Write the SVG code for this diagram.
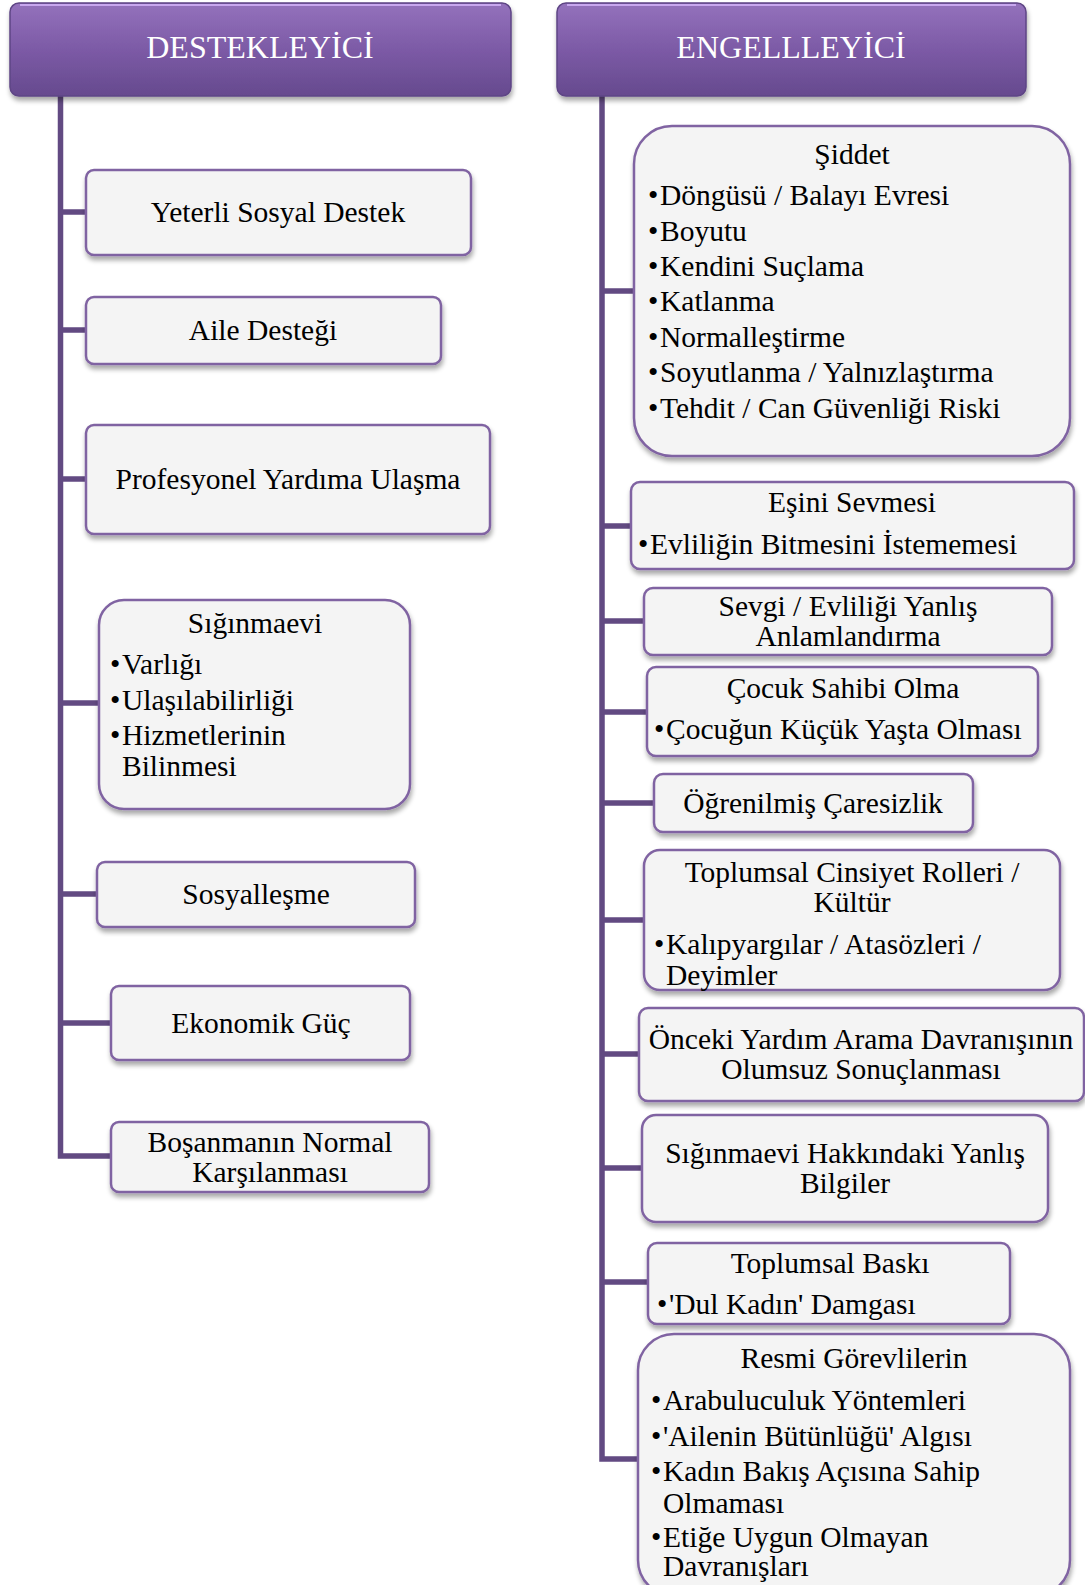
<svg xmlns="http://www.w3.org/2000/svg" width="1085" height="1585" viewBox="0 0 1085 1585">
<defs>
<linearGradient id="hg" x1="0" y1="0" x2="0" y2="1">
<stop offset="0" stop-color="#9472bc"/>
<stop offset="0.5" stop-color="#7c5aa6"/>
<stop offset="1" stop-color="#664a8e"/>
</linearGradient>
<filter id="sh" x="-5%" y="-5%" width="110%" height="120%">
<feGaussianBlur in="SourceAlpha" stdDeviation="2.5"/>
<feOffset dx="1" dy="4" result="b"/>
<feComponentTransfer><feFuncA type="linear" slope="0.35"/></feComponentTransfer>
<feMerge><feMergeNode/><feMergeNode in="SourceGraphic"/></feMerge>
</filter>
<style>
.hd{fill:url(#hg);stroke:#5e4585;stroke-width:1.5;filter:url(#sh)}
.hl{fill:none;stroke:#c8a8ee;stroke-width:2}
.ht{font-family:"Liberation Serif",serif;font-size:32px;fill:#ffffff;text-anchor:middle}
.nd{fill:#f4f4f4;stroke:#8064a2;stroke-width:2.5;filter:url(#sh)}
.t{font-family:"Liberation Serif",serif;font-size:29.5px;fill:#000000}
.c{text-anchor:middle}
.cn{fill:none;stroke:#624a82;stroke-width:5.5}
</style>
</defs>
<rect width="1085" height="1585" fill="#ffffff"/>

<g id="connectors">
<path class="cn" d="M60.5,96 V1156 H111"/>
<path class="cn" d="M60.5,212 H86 M60.5,330 H86 M60.5,479 H86 M60.5,703 H99 M60.5,894 H97 M60.5,1023 H111"/>
<path class="cn" d="M602,96 V1459 H638"/>
<path class="cn" d="M602,291 H634 M602,526 H631 M602,621 H644 M602,712 H647 M602,803 H654 M602,920 H644 M602,1054 H639 M602,1168 H642 M602,1282 H648"/>
</g>

<g id="h-destek">
<rect class="hd" x="10" y="3" width="501" height="93" rx="9"/>
<path class="hl" d="M20,5 H501"/>
<text class="ht" x="260" y="58">DESTEKLEYİCİ</text>
</g>
<g id="h-engel">
<rect class="hd" x="557" y="3" width="469" height="93" rx="9"/>
<path class="hl" d="M567,5 H1016"/>
<text class="ht" x="791" y="58">ENGELLLEYİCİ</text>
</g>

<g id="n-yeterli">
<rect class="nd" x="86" y="170" width="385" height="85" rx="8"/>
<text class="t c" x="278" y="222">Yeterli Sosyal Destek</text>
</g>
<g id="n-aile">
<rect class="nd" x="86" y="297" width="355" height="67" rx="8"/>
<text class="t c" x="263" y="340">Aile Desteği</text>
</g>
<g id="n-profesyonel">
<rect class="nd" x="86" y="425" width="404" height="109" rx="8"/>
<text class="t c" x="288" y="489">Profesyonel Yardıma Ulaşma</text>
</g>
<g id="n-siginmaevi">
<rect class="nd" x="99" y="600" width="311" height="209" rx="25"/>
<text class="t c" x="255" y="633">Sığınmaevi</text>
<text class="t" x="110" y="674">•</text><text class="t" x="122" y="674">Varlığı</text>
<text class="t" x="110" y="710">•</text><text class="t" x="122" y="710">Ulaşılabilirliği</text>
<text class="t" x="110" y="745">•</text><text class="t" x="122" y="745">Hizmetlerinin</text>
<text class="t" x="122" y="776">Bilinmesi</text>
</g>
<g id="n-sosyal">
<rect class="nd" x="97" y="862" width="318" height="65" rx="8"/>
<text class="t c" x="256" y="904">Sosyalleşme</text>
</g>
<g id="n-ekonomik">
<rect class="nd" x="111" y="986" width="299" height="74" rx="8"/>
<text class="t c" x="261" y="1033">Ekonomik Güç</text>
</g>
<g id="n-bosanma">
<rect class="nd" x="111" y="1122" width="318" height="70" rx="8"/>
<text class="t c" x="270" y="1152">Boşanmanın Normal</text>
<text class="t c" x="270" y="1182">Karşılanması</text>
</g>

<g id="n-siddet">
<rect class="nd" x="634" y="126" width="436" height="330" rx="38"/>
<text class="t c" x="852" y="164">Şiddet</text>
<text class="t" x="648" y="205">•</text><text class="t" x="660" y="205">Döngüsü / Balayı Evresi</text>
<text class="t" x="648" y="241">•</text><text class="t" x="660" y="241">Boyutu</text>
<text class="t" x="648" y="276">•</text><text class="t" x="660" y="276">Kendini Suçlama</text>
<text class="t" x="648" y="311">•</text><text class="t" x="660" y="311">Katlanma</text>
<text class="t" x="648" y="347">•</text><text class="t" x="660" y="347">Normalleştirme</text>
<text class="t" x="648" y="382">•</text><text class="t" x="660" y="382">Soyutlanma / Yalnızlaştırma</text>
<text class="t" x="648" y="418">•</text><text class="t" x="660" y="418">Tehdit / Can Güvenliği Riski</text>
</g>
<g id="n-esini">
<rect class="nd" x="631" y="482" width="443" height="87" rx="9"/>
<text class="t c" x="852" y="512">Eşini Sevmesi</text>
<text class="t" x="638" y="554">•</text><text class="t" x="650" y="554">Evliliğin Bitmesini İstememesi</text>
</g>
<g id="n-sevgi">
<rect class="nd" x="644" y="588" width="408" height="67" rx="9"/>
<text class="t c" x="848" y="616">Sevgi / Evliliği Yanlış</text>
<text class="t c" x="848" y="646">Anlamlandırma</text>
</g>
<g id="n-cocuk">
<rect class="nd" x="647" y="667" width="391" height="89" rx="9"/>
<text class="t c" x="843" y="698">Çocuk Sahibi Olma</text>
<text class="t" x="654" y="739">•</text><text class="t" x="666" y="739">Çocuğun Küçük Yaşta Olması</text>
</g>
<g id="n-ogrenilmis">
<rect class="nd" x="654" y="774" width="319" height="58" rx="9"/>
<text class="t c" x="813" y="813">Öğrenilmiş Çaresizlik</text>
</g>
<g id="n-toplumsal-cinsiyet">
<rect class="nd" x="644" y="850" width="416" height="140" rx="16"/>
<text class="t c" x="852" y="882">Toplumsal Cinsiyet Rolleri /</text>
<text class="t c" x="852" y="912">Kültür</text>
<text class="t" x="654" y="954">•</text><text class="t" x="666" y="954">Kalıpyargılar / Atasözleri /</text>
<text class="t" x="666" y="985">Deyimler</text>
</g>
<g id="n-onceki">
<rect class="nd" x="639" y="1008" width="445" height="93" rx="9"/>
<text class="t c" x="861" y="1049">Önceki Yardım Arama Davranışının</text>
<text class="t c" x="861" y="1079">Olumsuz Sonuçlanması</text>
</g>
<g id="n-siginmaevi-yanlis">
<rect class="nd" x="642" y="1115" width="406" height="107" rx="14"/>
<text class="t c" x="845" y="1163">Sığınmaevi Hakkındaki Yanlış</text>
<text class="t c" x="845" y="1193">Bilgiler</text>
</g>
<g id="n-toplumsal-baski">
<rect class="nd" x="648" y="1243" width="362" height="81" rx="9"/>
<text class="t c" x="830" y="1273">Toplumsal Baskı</text>
<text class="t" x="657" y="1314">•</text><text class="t" x="669" y="1314">'Dul Kadın' Damgası</text>
</g>
<g id="n-resmi">
<rect class="nd" x="638" y="1334" width="432" height="262" rx="36"/>
<text class="t c" x="854" y="1368">Resmi Görevlilerin</text>
<text class="t" x="651" y="1410">•</text><text class="t" x="663" y="1410">Arabuluculuk Yöntemleri</text>
<text class="t" x="651" y="1446">•</text><text class="t" x="663" y="1446">'Ailenin Bütünlüğü' Algısı</text>
<text class="t" x="651" y="1481">•</text><text class="t" x="663" y="1481">Kadın Bakış Açısına Sahip</text>
<text class="t" x="663" y="1513">Olmaması</text>
<text class="t" x="651" y="1547">•</text><text class="t" x="663" y="1547">Etiğe Uygun Olmayan</text>
<text class="t" x="663" y="1576">Davranışları</text>
</g>
</svg>
